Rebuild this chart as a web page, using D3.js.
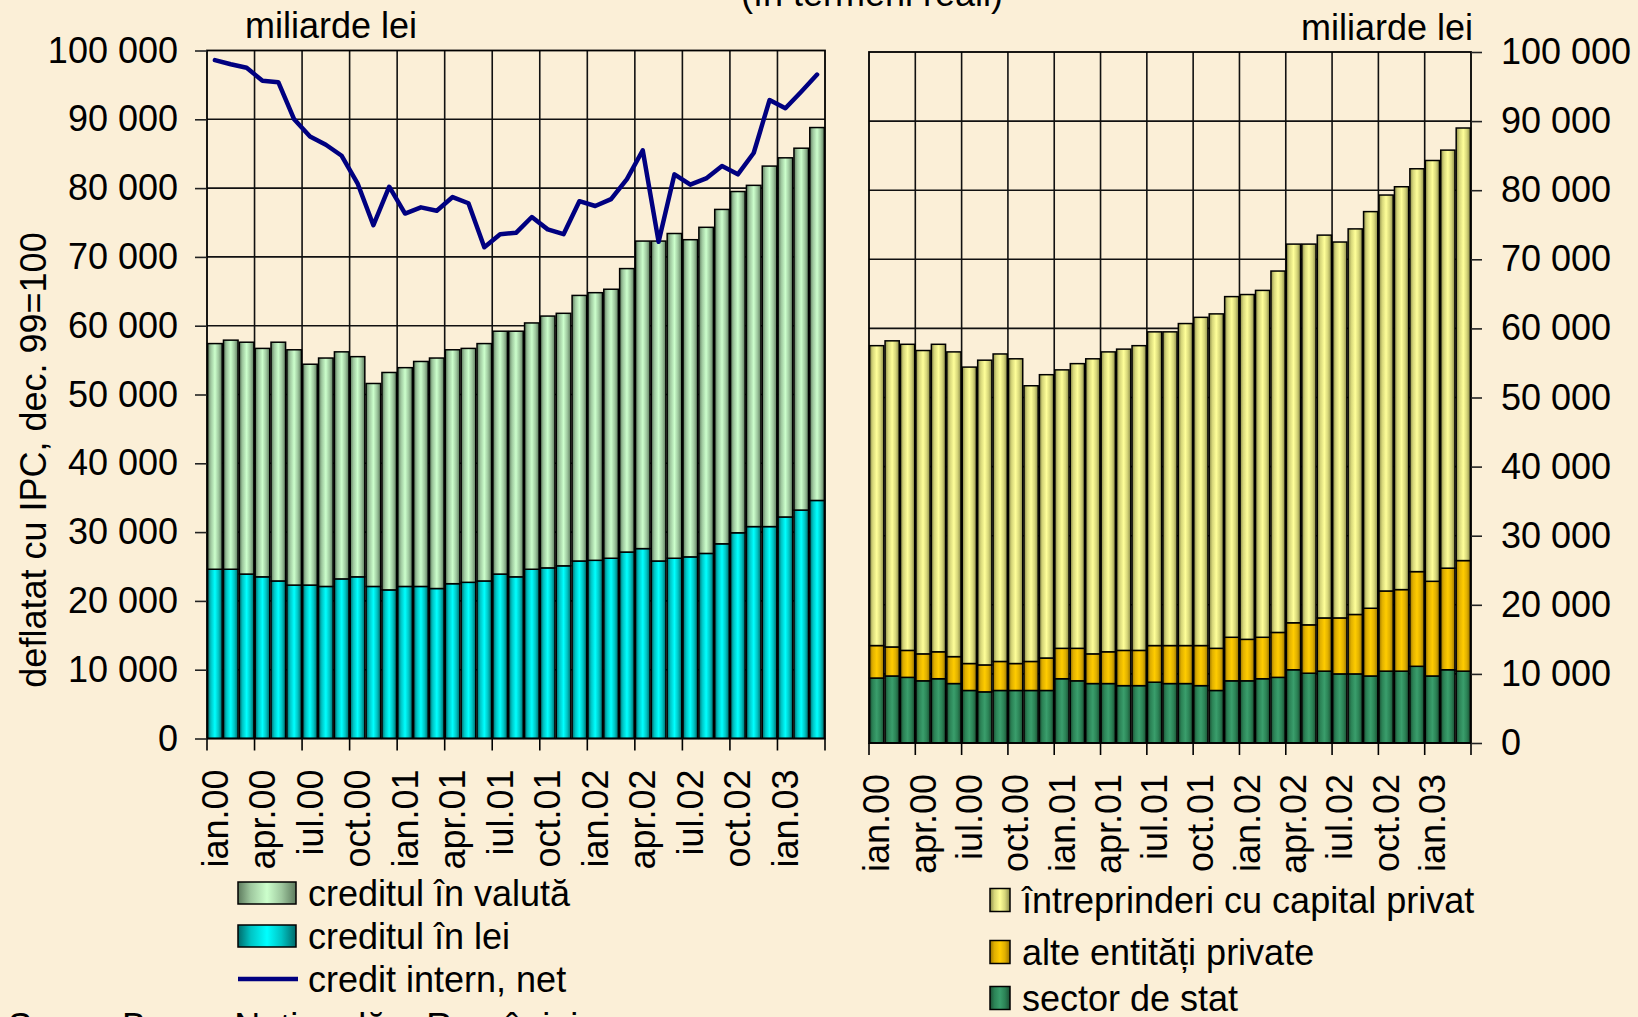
<!DOCTYPE html>
<html>
<head>
<meta charset="utf-8">
<script src="https://cdn.jsdelivr.net/npm/d3@7"></script>
<style>
  body { margin: 0; background: #fbefd7; }
  svg text { font-family: "Liberation Sans", Arial, sans-serif; fill: #000; }
</style>
</head>
<body>
<script>
// credit neguvernamental, deflatat cu IPC (dec. 99 = 100), miliarde lei

// categories: one per month, ian.00 ... mar.03
var months = [
  "ian.00", "feb.00", "mar.00", "apr.00", "mai.00", "iun.00", "iul.00", "aug.00", "sep.00", "oct.00", "nov.00", "dec.00",
  "ian.01", "feb.01", "mar.01", "apr.01", "mai.01", "iun.01", "iul.01", "aug.01", "sep.01", "oct.01", "nov.01", "dec.01",
  "ian.02", "feb.02", "mar.02", "apr.02", "mai.02", "iun.02", "iul.02", "aug.02", "sep.02", "oct.02", "nov.02", "dec.02",
  "ian.03", "feb.03", "mar.03"
];

// left chart: structure by currency
var creditLei = [24600, 24600, 23900, 23500, 22900, 22300, 22300, 22100, 23200, 23500, 22100, 21600,
  22100, 22100, 21800, 22500, 22700, 22900, 23900, 23500, 24600, 24800, 25100, 25800,
  25900, 26200, 27100, 27600, 25800, 26200, 26400, 26900, 28300, 29900, 30800, 30800,
  32200, 33200, 34600];
var creditValuta = [32800, 33300, 33700, 33200, 34700, 34200, 32100, 33200, 33000, 32000, 29500, 31600,
  31800, 32700, 33500, 34000, 34000, 34500, 35300, 35700, 35800, 36600, 36700, 38600,
  38900, 39100, 41200, 44700, 46500, 47200, 46100, 47400, 48600, 49600, 49600, 52400,
  52200, 52600, 54200];
var creditInternNet = [98600, 98000, 97500, 95600, 95400, 90000, 87500, 86300, 84700, 80700, 74600, 80200,
  76300, 77200, 76700, 78700, 77800, 71400, 73300, 73500, 75800, 74000, 73300, 78100,
  77400, 78400, 81300, 85500, 72200, 82000, 80500, 81400, 83200, 82000, 85100, 92800,
  91600, 94000, 96500];

// right chart: structure by debtor
var sectorStat = [9400, 9700, 9500, 9000, 9300, 8600, 7600, 7400, 7600, 7600, 7600, 7600,
  9300, 9000, 8600, 8600, 8300, 8300, 8800, 8600, 8600, 8300, 7600, 9000,
  9000, 9300, 9500, 10600, 10100, 10400, 10000, 10000, 9700, 10400, 10400, 11100,
  9700, 10600, 10400];
var alteEntitati = [4700, 4200, 3900, 3900, 3900, 3900, 3900, 3900, 4200, 3900, 4200, 4700,
  4400, 4700, 4300, 4600, 5100, 5100, 5300, 5500, 5500, 5800, 6100, 6300,
  6000, 6000, 6500, 6800, 7000, 7700, 8100, 8600, 9800, 11600, 11800, 13700,
  13700, 14700, 16000];
var capitalPrivat = [43400, 44300, 44300, 43900, 44500, 44100, 42900, 44100, 44500, 44100, 39900, 41000,
  40300, 41200, 42700, 43400, 43600, 44100, 45400, 45400, 46600, 47500, 48400, 49300,
  49900, 50200, 52300, 54800, 55100, 55400, 54400, 55800, 57400, 57300, 58300, 58300,
  60900, 60500, 62600];

var yTicks = [0, 10000, 20000, 30000, 40000, 50000, 60000, 70000, 80000, 90000, 100000];

var width = 1638, height = 1017;
var fontSize = 36;

// number format with a space as thousands separator
var ro = d3.formatLocale({ decimal: ",", thousands: " ", grouping: [3], currency: ["", ""] });
var fmt = ro.format(",");

var svg = d3.select("body").append("svg")
  .attr("width", width)
  .attr("height", height);

svg.append("rect")
  .attr("width", width)
  .attr("height", height)
  .attr("fill", "#fbefd7");

// gradients: dark edges, light middle (like the bars in the original)
var defs = svg.append("defs");
function gradient(id, dark, mid, light) {
  var g = defs.append("linearGradient").attr("id", id)
    .attr("x1", 0).attr("x2", 1).attr("y1", 0).attr("y2", 0);
  g.append("stop").attr("offset", "0%").attr("stop-color", dark);
  g.append("stop").attr("offset", "22%").attr("stop-color", mid);
  g.append("stop").attr("offset", "50%").attr("stop-color", light);
  g.append("stop").attr("offset", "75%").attr("stop-color", mid);
  g.append("stop").attr("offset", "100%").attr("stop-color", dark);
}
gradient("gValuta", "#5d7a5d", "#9fc89f", "#ccffcc");
gradient("gLei", "#006a6a", "#00c4c4", "#00ffff");
gradient("gPrivat", "#8a8a4a", "#d6d67a", "#ffff99");
gradient("gAlte", "#9a7400", "#e0b000", "#ffcc00");
gradient("gStat", "#1c4f34", "#2b8356", "#3a9e6c");

// one panel: grid, stacked bars, border, x ticks and labels
function drawPanel(box, keys, data, fills) {
  var x = d3.scaleBand()
    .domain(months)
    .range([box.x0, box.x1])
    .paddingInner(0.08)
    .paddingOuter(0.04);
  var y = d3.scaleLinear()
    .domain([0, 100000])
    .range([box.y1, box.y0]);
  var step = x.step();

  var g = svg.append("g");

  // horizontal grid
  g.selectAll("line.h").data(yTicks.slice(1, -1)).enter().append("line")
    .attr("x1", box.x0).attr("x2", box.x1)
    .attr("y1", function (d) { return y(d); })
    .attr("y2", function (d) { return y(d); })
    .attr("stroke", "#111").attr("stroke-width", 1.6);

  // vertical grid every quarter
  var quarters = d3.range(0, months.length + 1, 3);
  g.selectAll("line.v").data(quarters.slice(1, -1)).enter().append("line")
    .attr("x1", function (k) { return box.x0 + k * step; })
    .attr("x2", function (k) { return box.x0 + k * step; })
    .attr("y1", box.y0).attr("y2", box.y1)
    .attr("stroke", "#111").attr("stroke-width", 1.6);

  // stacked bars
  var rows = months.map(function (m, i) {
    var r = { month: m };
    keys.forEach(function (k, j) { r[k] = data[j][i]; });
    return r;
  });
  var series = d3.stack().keys(keys)(rows);

  g.selectAll("g.layer").data(series).enter().append("g")
    .attr("fill", function (d, i) { return "url(#" + fills[i] + ")"; })
    .selectAll("rect").data(function (d) { return d; }).enter().append("rect")
    .attr("x", function (d) { return x(d.data.month); })
    .attr("width", x.bandwidth())
    .attr("y", function (d) { return y(d[1]); })
    .attr("height", function (d) { return y(d[0]) - y(d[1]); })
    .attr("stroke", "#000")
    .attr("stroke-width", 1.5);

  // border
  g.append("rect")
    .attr("x", box.x0).attr("y", box.y0)
    .attr("width", box.x1 - box.x0).attr("height", box.y1 - box.y0)
    .attr("fill", "none").attr("stroke", "#000").attr("stroke-width", 1.8);

  // x tick marks between quarters
  g.selectAll("line.xt").data(quarters).enter().append("line")
    .attr("x1", function (k) { return box.x0 + k * step; })
    .attr("x2", function (k) { return box.x0 + k * step; })
    .attr("y1", box.y1).attr("y2", box.y1 + 12)
    .attr("stroke", "#000").attr("stroke-width", 1.6);

  // x labels, first month of each quarter
  g.selectAll("text.xl").data(months.filter(function (m, i) { return i % 3 === 0; }))
    .enter().append("text")
    .attr("transform", function (m) {
      return "translate(" + (x(m) + x.bandwidth() / 2) + "," + (box.y1 + 31) + ") rotate(-90)";
    })
    .attr("dy", "0.35em")
    .attr("text-anchor", "end")
    .style("font-size", fontSize + "px")
    .text(function (m) { return m; });

  return { x: x, y: y };
}

// ---- left chart
var L = { x0: 207, x1: 825, y0: 50.5, y1: 738.5 };
var left = drawPanel(L, ["lei", "valuta"], [creditLei, creditValuta], ["gLei", "gValuta"]);

var line = d3.line()
  .x(function (d, i) { return left.x(months[i]) + left.x.bandwidth() / 2; })
  .y(function (d) { return left.y(d); });

svg.append("path")
  .datum(creditInternNet)
  .attr("d", line)
  .attr("fill", "none")
  .attr("stroke", "#000080")
  .attr("stroke-width", 4.5)
  .attr("stroke-linejoin", "round")
  .attr("stroke-linecap", "round");

var axL = svg.append("g")
  .attr("transform", "translate(" + L.x0 + ",0)")
  .call(d3.axisLeft(left.y).tickValues(yTicks).tickSize(12).tickPadding(17).tickFormat(fmt));
axL.select(".domain").remove();
axL.attr("font-size", null).attr("font-family", null);
axL.selectAll("line").attr("stroke", "#222").attr("stroke-width", 1.6);
axL.selectAll("text").style("font-size", fontSize + "px");

// ---- right chart
var R = { x0: 869, x1: 1471, y0: 52, y1: 743 };
var right = drawPanel(R, ["stat", "alte", "privat"], [sectorStat, alteEntitati, capitalPrivat], ["gStat", "gAlte", "gPrivat"]);

var axR = svg.append("g")
  .attr("transform", "translate(" + R.x1 + ",0)")
  .call(d3.axisRight(right.y).tickValues(yTicks).tickSize(11).tickPadding(19).tickFormat(fmt));
axR.select(".domain").remove();
axR.attr("font-size", null).attr("font-family", null);
axR.selectAll("line").attr("stroke", "#222").attr("stroke-width", 1.6);
axR.selectAll("text").style("font-size", fontSize + "px");

// ---- texts
svg.append("text")
  .attr("x", 872).attr("y", 6)
  .attr("text-anchor", "middle")
  .style("font-size", fontSize + "px")
  .text("(în termeni reali)");

svg.append("text")
  .attr("x", 245).attr("y", 38)
  .style("font-size", fontSize + "px")
  .text("miliarde lei");

svg.append("text")
  .attr("x", 1473).attr("y", 40)
  .attr("text-anchor", "end")
  .style("font-size", fontSize + "px")
  .text("miliarde lei");

svg.append("text")
  .attr("transform", "translate(33,460) rotate(-90)")
  .attr("dy", "0.35em")
  .attr("text-anchor", "middle")
  .style("font-size", fontSize + "px")
  .text("deflatat cu IPC, dec. 99=100");

// source line, cut by the bottom edge as in the original
svg.append("text")
  .attr("x", 8).attr("y", 1039)
  .style("font-size", fontSize + "px")
  .text("Sursa: Banca Națională a României");

// ---- legends
var legendLeft = [
  { label: "creditul în valută", fill: "gValuta", y: 893 },
  { label: "creditul în lei", fill: "gLei", y: 936 },
  { label: "credit intern, net", line: true, y: 979 }
];
var lg = svg.append("g").selectAll("g").data(legendLeft).enter().append("g");
lg.filter(function (d) { return !d.line; }).append("rect")
  .attr("x", 238).attr("y", function (d) { return d.y - 11; })
  .attr("width", 58).attr("height", 22)
  .attr("fill", function (d) { return "url(#" + d.fill + ")"; })
  .attr("stroke", "#000").attr("stroke-width", 1.5);
lg.filter(function (d) { return d.line; }).append("line")
  .attr("x1", 238).attr("x2", 298)
  .attr("y1", function (d) { return d.y; }).attr("y2", function (d) { return d.y; })
  .attr("stroke", "#000080").attr("stroke-width", 4.5);
lg.append("text")
  .attr("x", 308).attr("y", function (d) { return d.y; })
  .attr("dy", "0.35em")
  .style("font-size", fontSize + "px")
  .text(function (d) { return d.label; });

var legendRight = [
  { label: "întreprinderi cu capital privat", fill: "gPrivat", y: 900 },
  { label: "alte entități private", fill: "gAlte", y: 952 },
  { label: "sector de stat", fill: "gStat", y: 998 }
];
var rg = svg.append("g").selectAll("g").data(legendRight).enter().append("g");
rg.append("rect")
  .attr("x", 990).attr("y", function (d) { return d.y - 11.5; })
  .attr("width", 20).attr("height", 23)
  .attr("fill", function (d) { return "url(#" + d.fill + ")"; })
  .attr("stroke", "#000").attr("stroke-width", 1.5);
rg.append("text")
  .attr("x", 1022).attr("y", function (d) { return d.y; })
  .attr("dy", "0.35em")
  .style("font-size", fontSize + "px")
  .text(function (d) { return d.label; });
</script>
</body>
</html>
